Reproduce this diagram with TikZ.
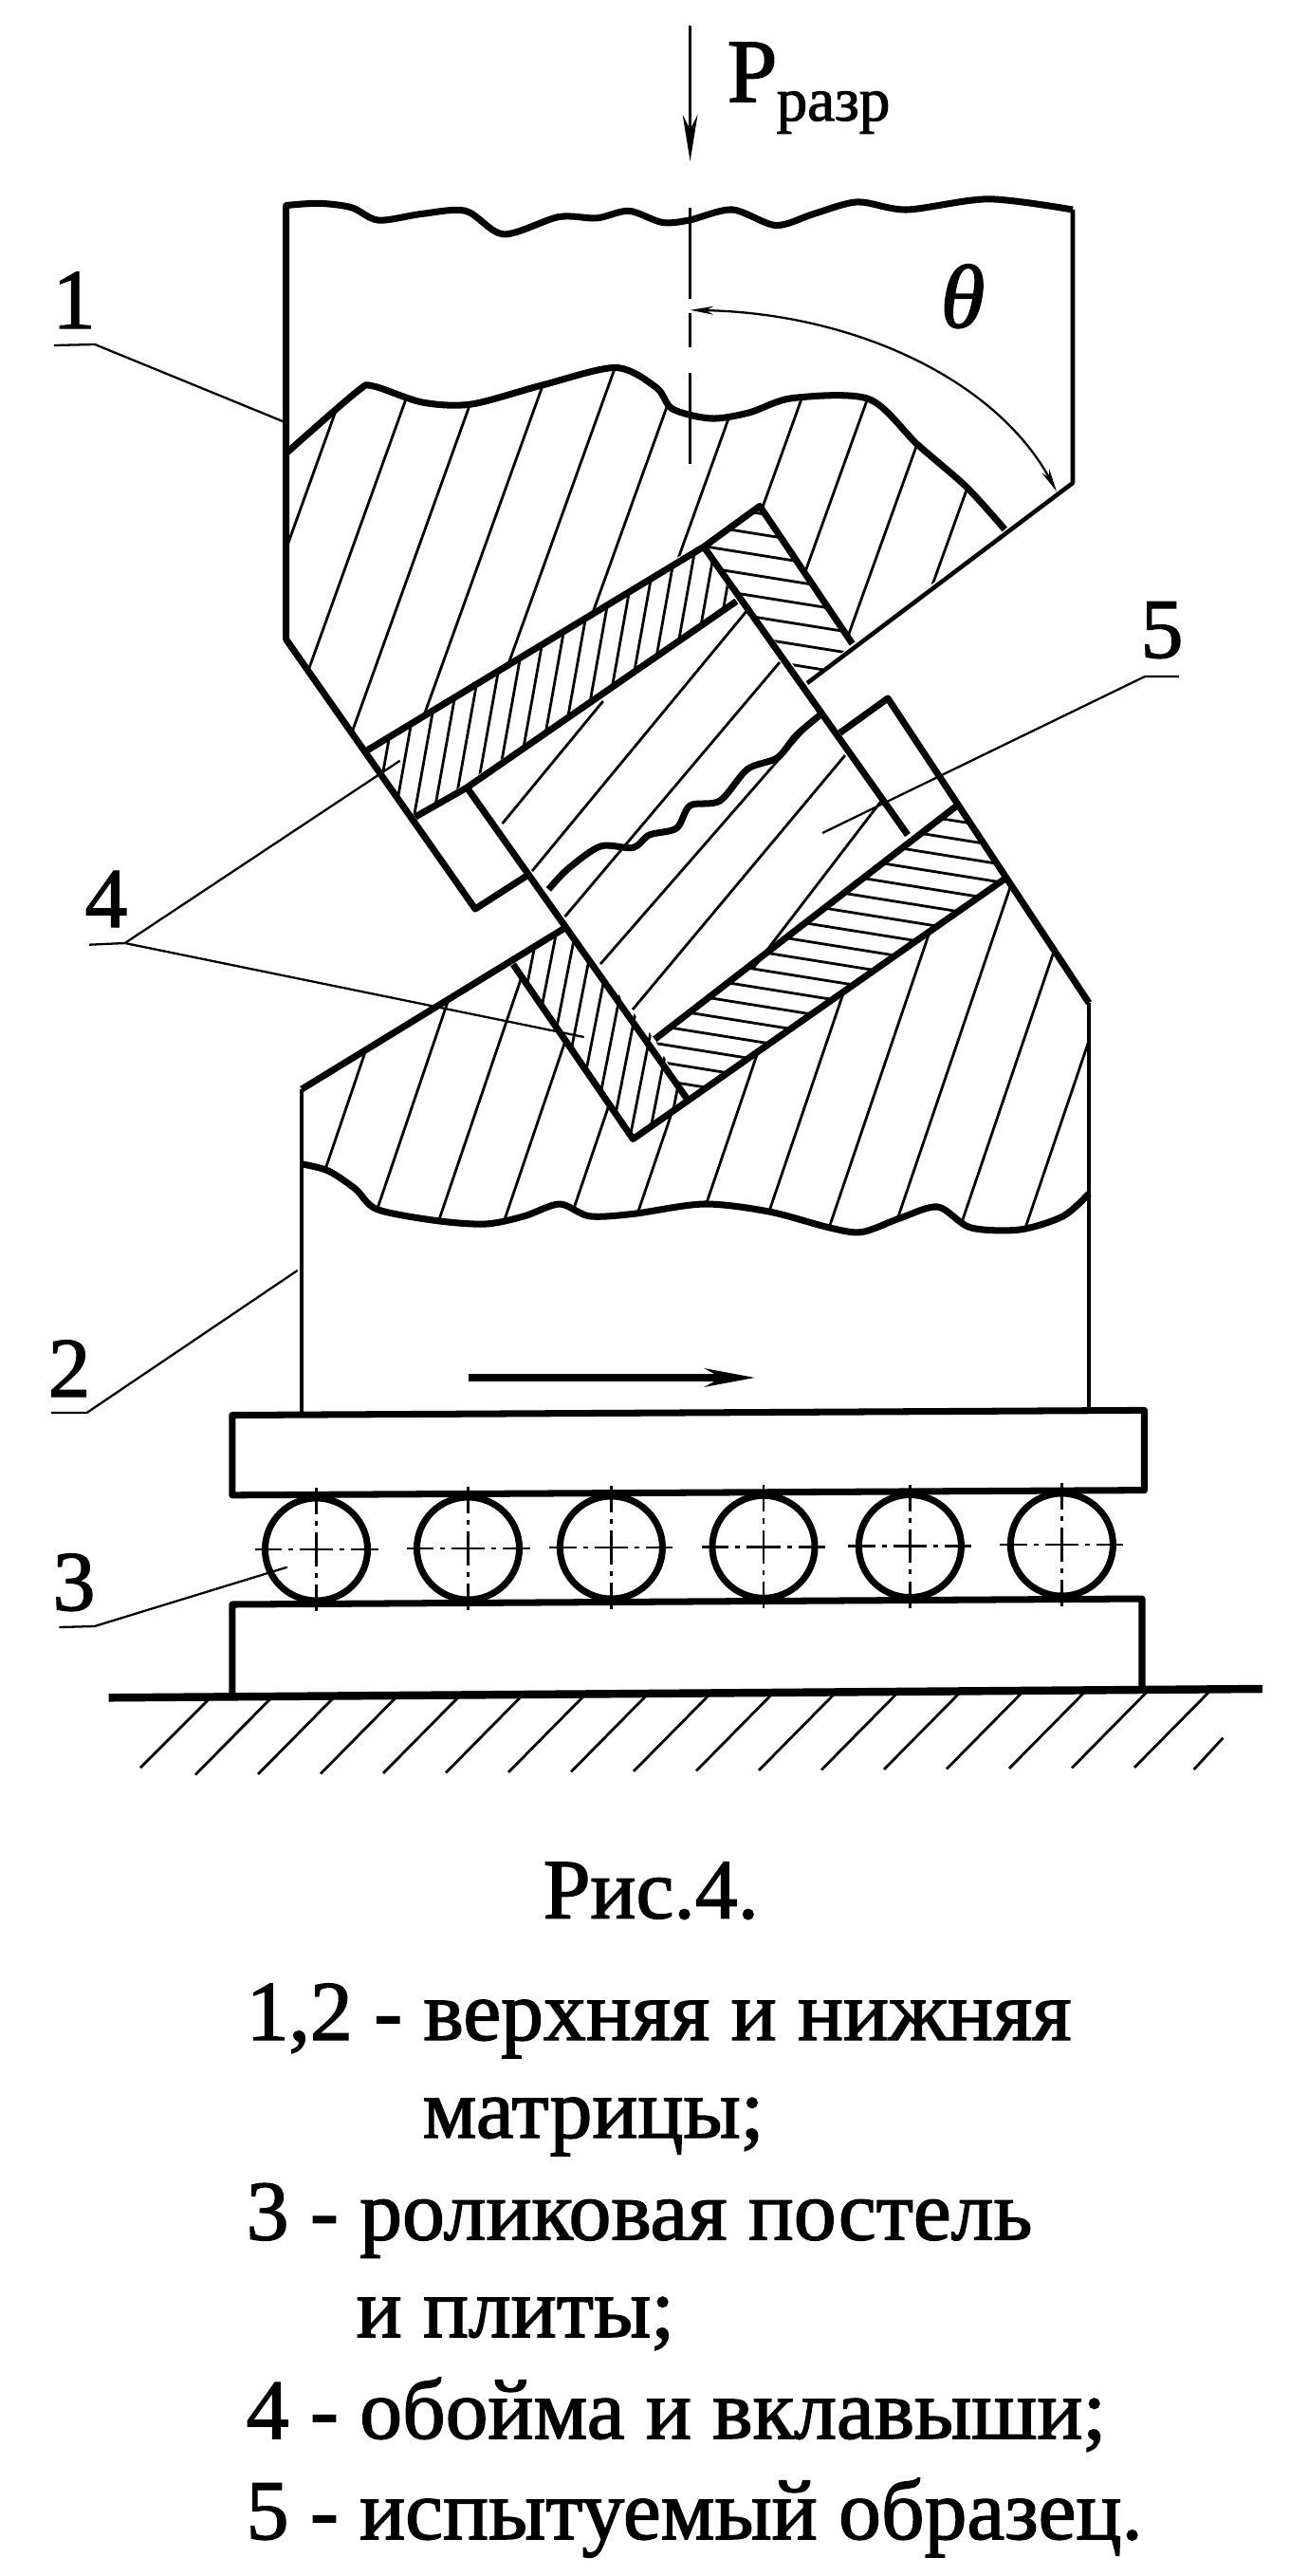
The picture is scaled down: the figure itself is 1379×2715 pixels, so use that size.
\documentclass[tikz,border=0pt]{standalone}
\usepackage{fontspec}
\setmainfont{Liberation Serif}
\newfontfamily\heavyfont[FakeBold=1.6]{Liberation Serif}
\usetikzlibrary{arrows.meta}
\tikzset{
  thickline/.style={line width=2pt,line join=round},
  midline/.style={line width=1.3pt,line join=round},
  hatchline/.style={line width=0.8pt},
  leaderline/.style={line width=0.65pt},
  axisline/.style={line width=0.7pt,dash pattern=on 8pt off 2pt on 1.5pt off 2pt on 10pt off 2pt on 1.5pt off 2pt on 8pt off 0pt},
  partlabel/.style={anchor=base,inner sep=0pt,font=\heavyfont\fontsize{25.5}{30}\selectfont},
  textline/.style={anchor=base west,inner sep=0pt,font=\heavyfont\fontsize{25.5}{30}\selectfont}
}
\def\upperwave{plot[smooth,tension=0.5] coordinates {(301.7,477.7) (376,413) (393.5,407) (445,424) (497,426) (571.4,406) (649,387.5) (692,408.5) (709,431) (749.4,441) (789.6,435) (835.5,419.6) (915.8,420.5) (967.5,468.7) (1019,513.4) (1059.3,558)}}
\def\lowerwave{plot[smooth,tension=0.5] coordinates {(1148,1258) (1120.8,1281.8) (1075,1296) (1023,1293.8) (988.8,1272) (948.6,1284) (908.4,1298.6) (874,1293.8) (810.9,1277) (742,1269) (667.4,1279.4) (621.4,1281.8) (590,1269) (552.6,1281.8) (512.4,1290) (460.7,1286.6) (397.6,1274.6) (374.6,1253) (346,1234) (318,1226.8)}}
\begin{document}
\begin{tikzpicture}[x=0.01cm,y=-0.01cm]
  \useasboundingbox (0,0) rectangle (1379,2715);
  % load and axis
  \coordinate (loadtop) at (727.6,27);
  \coordinate (loadtip) at (727.6,170);
  \draw[leaderline,-{Stealth[length=14pt,width=4.5pt]}] (loadtop) -- (loadtip);
  \node (loadP) at (766,107) [anchor=base west,inner sep=0pt,font=\heavyfont\fontsize{27}{30}\selectfont] {P};
  \node (loadsub) at (818,127) [anchor=base west,inner sep=0pt,font=\heavyfont\fontsize{18.5}{24}\selectfont] {разр};
  \draw[leaderline] (727.6,219) -- (727.6,315);
  \draw[leaderline] (727.6,330) -- (727.6,366);
  \draw[leaderline] (727.6,393) -- (727.6,489);
  % angle
  \coordinate (anglea) at (1114,518);
  \coordinate (angleb) at (727.6,326.8);
  \draw[leaderline,{Stealth[length=7pt,width=2.5pt]}-{Stealth[length=7pt,width=2.5pt]}] (angleb) .. controls (900,330) and (1050,400) .. (anglea);
  \node (theta) at (1015,345) [anchor=base,inner sep=0pt,font=\heavyfont\itshape\fontsize{27}{30}\selectfont] {θ};
  % hatching of the upper die
  \begin{scope}
    \clip \upperwave -- (898.6,678.5) -- (801,533.4) -- (386,791.5) -- (301.7,674) -- cycle;
    \foreach \k in {0,...,10}
      \draw[hatchline] ({358+69.5*\k+25.9},350) -- ({358+69.5*\k-172.8},902);
  \end{scope}
  % hatching of the lower die
  \begin{scope}
    \clip \lowerwave -- (318,1148) -- (541,1016) -- (667.4,1200.5) -- (1060.5,925.5) -- (1148,1057) -- cycle;
    \foreach \k in {-2,...,12}
      \draw[hatchline] ({457+69*\k+68},900) -- ({457+69*\k-85},1350);
  \end{scope}
  % hatching of the inserts
  \begin{scope}
    \clip (386,791.5) -- (742,576.3) -- (776.4,634) -- (437.8,861) -- cycle;
    \foreach \k in {-8,...,10}
      \draw[hatchline] ({547+20.5*\k+27},550) -- ({547+20.5*\k-32},880);
  \end{scope}
  \begin{scope}
    \clip (541,1016) -- (595.6,978) -- (690,1095) -- (725,1159) -- (667.4,1200.5) -- cycle;
    \foreach \k in {-9,...,3}
      \draw[hatchline] ({683+20*\k+30},950) -- ({683+20*\k-23},1220);
  \end{scope}
  \begin{scope}
    \clip (801,533.4) -- (742,576.3) -- (851,720) -- (898.6,678.5) -- cycle;
    \foreach \k in {-3,...,7}
      \draw[hatchline] (720,{585+22*\k-12.8}) -- (920,{585+22*\k+19.2});
  \end{scope}
  \begin{scope}
    \clip (690,1095) -- (1009,849) -- (1060.5,925.5) -- (725,1159) -- cycle;
    \foreach \k in {-1,...,18}
      \draw[hatchline] (670,{856+19*\k-44.8}) -- (1080,{856+19*\k+20.8});
  \end{scope}
  % specimen hatching
  \draw[hatchline] (529.6,868) -- (635.8,739);
  \draw[hatchline] (561,918) -- (788,643);
  \draw[hatchline] (595.6,966) -- (822,698);
  \draw[hatchline] (633,1016) -- (860,755.7);
  \draw[hatchline] (667,1064) -- (891,796);
  \draw[hatchline] (793.6,1021) -- (930,843);
  % upper die
  \draw[thickline] plot[smooth,tension=0.5] coordinates {(1131,221) (1042,209.8) (956,221) (904,212.9) (858,225.4) (818,237.5) (772,221) (726.4,232.1) (698,234.4) (663,222.3) (629,229.9) (589,228.6) (531,246.9) (491,222.3) (445,225.4) (399,232.1) (370.5,218.7) (336,214.3) (301.7,216.5)} -- (301.7,674) -- (501,958) -- (555.4,923);
  \draw[midline] (1131,221) -- (1131,509) -- (851,720);
  \draw[thickline] \upperwave;
  % cage and liners of the upper die
  \draw[thickline] (386,791.5) -- (742,576.3) -- (801,533.4) -- (898.6,678.5);
  \draw[thickline] (437.8,861) -- (492.3,830) -- (776.4,633.7);
  % specimen
  \draw[thickline] (742,576.3) -- (957,880);
  \draw[thickline] (492.3,830) -- (725,1159);
  \draw[thickline] plot[smooth,tension=0.5] coordinates {(578.4,937.4) (598.5,916) (633,892) (667.4,893.4) (684.6,880) (713.3,872.9) (727.6,849) (759,844) (788,810.7) (819.5,798.7) (839.6,774.8) (865.4,753)};
  % lower die
  \draw[thickline] (885.5,772.4) -- (936,736) -- (1148,1057);
  \draw[thickline] (318,1148) -- (595.6,978);
  \draw[thickline] (541,1016.4) -- (667.4,1200.5) -- (1060.5,925.5);
  \draw[thickline] (690.3,1095.3) -- (1009,849);
  \draw[midline] (318,1148) -- (318,1491);
  \draw[midline] (1148,1057) -- (1148,1486);
  \draw[thickline] \lowerwave;
  % slide direction
  \coordinate (slidea) at (493.5,1452);
  \coordinate (slideb) at (796,1452);
  \draw[line width=2pt,-{Stealth[length=15pt,width=5.5pt]}] (slidea) -- (slideb);
  % plates and rollers
  \draw[thickline] (244.8,1491.5) -- (1206.5,1486.4) -- (1206.5,1570.6) -- (244.8,1575.8) -- cycle;
  \draw[thickline] (244.8,1786) -- (244.8,1691) -- (1204,1685) -- (1204,1780);
  \foreach \name/\cx/\cy in {rolla/333.5/1633,rollb/493.5/1632,rollc/644.4/1631,rolld/805/1630.3,rolle/959.4/1629.5,rollf/1119.4/1628} {
    \node (\name) at (\cx,\cy) [circle,draw,thickline,minimum size=1.08cm,inner sep=0pt] {};
    \draw[axisline] (\cx-65,\cy) -- (\cx+65,\cy);
    \draw[axisline] (\cx,\cy-65) -- (\cx,\cy+65);
  }
  % ground
  \draw[line width=2.4pt] (114.7,1789.3) -- (1330.8,1780);
  \draw[hatchline] (220,1791) -- (148,1863);
  \foreach \k in {1,...,16}
    \draw[hatchline] ({220+66*\k},{1790-0.0077*66*\k}) -- ({220+66*\k-80},{1871-0.0077*66*\k});
  \draw[hatchline] (1289.4,1831.6) -- (1258.7,1865);
  % part labels and leaders
  \node[partlabel] (partone) at (78,346) {1};
  \coordinate (onea) at (57,364);
  \coordinate (oneb) at (100,363);
  \coordinate (onec) at (298,444);
  \draw[leaderline] (onea) -- (oneb) -- (onec);
  \node[partlabel] (parttwo) at (73,1472) {2};
  \coordinate (twoa) at (54,1489);
  \coordinate (twob) at (91.5,1489);
  \coordinate (twoc) at (313.6,1339);
  \draw[leaderline] (twoa) -- (twob) -- (twoc);
  \node[partlabel] (partthree) at (78,1697) {3};
  \coordinate (threea) at (62.4,1715);
  \coordinate (threeb) at (99.7,1714);
  \coordinate (threec) at (302.8,1651.7);
  \draw[leaderline] (threea) -- (threeb) -- (threec);
  \node[partlabel] (partfour) at (112,977) {4};
  \coordinate (foura) at (94,995.7);
  \coordinate (fourb) at (131.7,994);
  \coordinate (fourc) at (421.7,801.7);
  \coordinate (fourd) at (615.7,1093);
  \draw[leaderline] (foura) -- (fourb) -- (fourc);
  \draw[leaderline] (fourb) -- (fourd);
  \node[partlabel] (partfive) at (1225,693) {5};
  \coordinate (fivea) at (1243,713);
  \coordinate (fiveb) at (1207,713);
  \coordinate (fivec) at (867,878);
  \draw[leaderline] (fivea) -- (fiveb) -- (fivec);
  % caption
  \node[textline] (caption) at (572,2021.6) {Рис.4.};
  \node[textline] (linea) at (259,2150) {1,2 - верхняя и нижняя};
  \node[textline] (lineb) at (445,2253) {матрицы;};
  \node[textline] (linec) at (259,2360.5) {3 - роликовая постель};
  \node[textline] (lined) at (375,2463) {и плиты;};
  \node[textline] (linee) at (259,2570) {4 - обойма и вклавыши;};
  \node[textline] (linef) at (259,2676) {5 - испытуемый образец.};
\end{tikzpicture}
\end{document}
